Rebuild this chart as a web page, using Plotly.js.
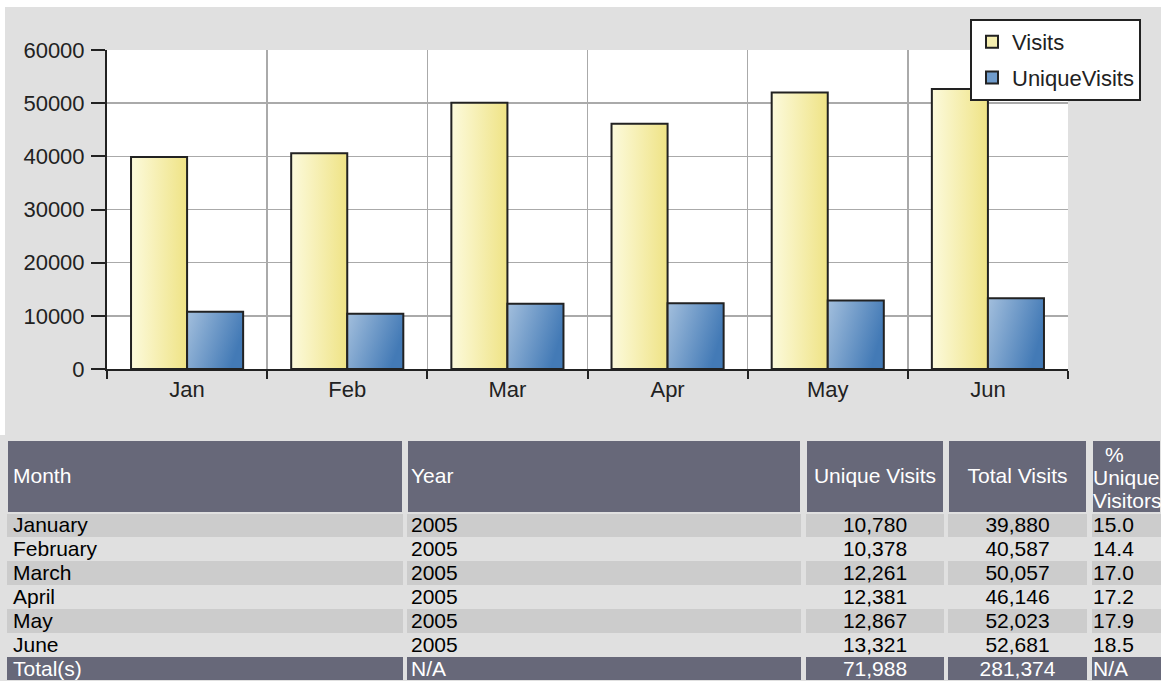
<!DOCTYPE html>
<html>
<head>
<meta charset="utf-8">
<script src="https://cdn.plot.ly/plotly-3.0.1.min.js"></script>
<style>
  html, body { margin: 0; padding: 0; background: #ffffff; }
  #chart { width: 1161px; height: 681px; }
</style>
</head>
<body>
<div id="chart"></div>
<script>
var months = ['Jan', 'Feb', 'Mar', 'Apr', 'May', 'Jun']
var month_names = ['January', 'February', 'March', 'April', 'May', 'June']
var years = ['2005', '2005', '2005', '2005', '2005', '2005']
var visits = [39880, 40587, 50057, 46146, 52023, 52681]
var unique_visits = [10780, 10378, 12261, 12381, 12867, 13321]
var pct_unique = ['15.0', '14.4', '17.0', '17.2', '17.9', '18.5']
var total_unique = 71988
var total_visits = 281374

var W = 1161, H = 681
function px(x) { return x / W }
function py(y) { return 1 - y / H }
function fmt(n) { return String(n).replace(/\B(?=(\d{3})+(?!\d))/g, ',') }

var ink = '#222222'
var bg = '#e0e0e0'
var head = '#676879'
var font = 'Liberation Sans, Arial, sans-serif'

var visits_trace = {
    type: 'bar', name: 'Visits', x: months, y: visits,
    marker: { color: '#f6efb0', line: { color: ink, width: 2 } },
    hoverinfo: 'none', legendgroup: 'a'
}
var unique_trace = {
    type: 'bar', name: 'UniqueVisits', x: months, y: unique_visits,
    marker: { color: '#6f9bcb', line: { color: ink, width: 2 } },
    hoverinfo: 'none', legendgroup: 'b'
}

// one table trace per column so the columns get gaps between them
function column(header, values, x0, x1, align) {
    var n = values.length
    var fills = [], colors = []
    for (var i = 0; i < n; i++) {
        if (i == n - 1) { fills.push(head); colors.push('#ffffff') }
        else { fills.push(i % 2 == 0 ? '#cccccc' : bg); colors.push('#000000') }
    }
    return {
        type: 'table',
        domain: { x: [px(x0), px(x1)], y: [0, py(440)] },
        header: {
            values: [header], align: align, height: 73,
            fill: { color: head }, line: { color: bg, width: 2 },
            font: { family: font, size: 21, color: '#ffffff' }
        },
        cells: {
            values: [values], align: align, height: 24,
            fill: { color: [fills] }, line: { color: [fills], width: 0 },
            font: { family: font, size: 21, color: [colors] }
        }
    }
}

var col_month = column('Month', month_names.concat(['Total(s)']), 7, 403, 'left')
var col_year = column('Year', years.concat(['N/A']), 407, 802, 'left')
var col_unique = column('Unique\u00a0Visits', unique_visits.map(fmt).concat([fmt(total_unique)]), 806, 944, 'center')
var col_total = column('Total\u00a0Visits', visits.map(fmt).concat([fmt(total_visits)]), 948, 1087, 'center')
var col_pct = column('', pct_unique.concat(['N/A']), 1092, 1161, 'left')

var data = [visits_trace, unique_trace, col_month, col_year, col_unique, col_total, col_pct]

var head_font = { family: font, size: 21, color: '#ffffff' }

var layout = {
    width: W, height: H,
    margin: { l: 0, r: 0, t: 0, b: 0 },
    paper_bgcolor: bg,
    plot_bgcolor: '#ffffff',
    font: { family: font, size: 22, color: ink },
    showlegend: true,
    bargap: 0.3, bargroupgap: 0,
    xaxis: {
        domain: [px(107), px(1068)],
        type: 'category', tickson: 'boundaries',
        ticks: 'outside', ticklen: 8, tickwidth: 2, tickcolor: ink,
        showline: true, linecolor: ink, linewidth: 2,
        showgrid: true, gridcolor: '#aaaaaa', gridwidth: 1.5,
        tickfont: { size: 22, color: ink }, fixedrange: true
    },
    xaxis2: {
        overlaying: 'x', anchor: 'y', domain: [px(107), px(1068)],
        type: 'category', tickson: 'boundaries', matches: 'x',
        ticks: 'inside', ticklen: 6, tickwidth: 2, tickcolor: ink,
        showticklabels: false, showgrid: false, showline: false
    },
    yaxis: {
        domain: [py(369), py(50)],
        range: [0, 60000], tick0: 0, dtick: 10000,
        ticks: 'outside', ticklen: 14, tickwidth: 2, tickcolor: ink,
        ticklabelstandoff: 2,
        showline: true, linecolor: ink, linewidth: 2,
        showgrid: true, gridcolor: '#aaaaaa', gridwidth: 1.5,
        zeroline: false, tickformat: 'd',
        tickfont: { size: 22, color: ink }, fixedrange: true
    },
    yaxis2: {
        overlaying: 'y', anchor: 'x', domain: [py(369), py(50)],
        range: [0, 60000], tick0: 0, dtick: 10000,
        ticks: 'inside', ticklen: 15, tickwidth: 2, tickcolor: ink,
        showticklabels: false, showgrid: false, showline: false, zeroline: false
    },
    legend: {
        x: px(970), y: py(19), xanchor: 'left', yanchor: 'top',
        bgcolor: '#ffffff', bordercolor: ink, borderwidth: 2,
        font: { size: 22, color: ink },
        traceorder: 'grouped', tracegroupgap: 4, itemwidth: 30
    },
    shapes: [
        { type: 'rect', xref: 'paper', yref: 'paper', x0: 0, x1: 1, y0: py(7), y1: 1,
          fillcolor: '#ffffff', line: { width: 0 } },
        { type: 'rect', xref: 'paper', yref: 'paper', x0: 0, x1: px(5), y0: py(435), y1: 1,
          fillcolor: '#ffffff', line: { width: 0 } }
    ],
    annotations: [
        { text: '%', x: px(1114), y: py(454), xref: 'paper', yref: 'paper', showarrow: false,
          xanchor: 'center', yanchor: 'middle', font: head_font },
        { text: 'Unique', x: px(1091), y: py(477), xref: 'paper', yref: 'paper', showarrow: false,
          xanchor: 'left', yanchor: 'middle', font: head_font },
        { text: 'Visitors', x: px(1091), y: py(500), xref: 'paper', yref: 'paper', showarrow: false,
          xanchor: 'left', yanchor: 'middle', font: head_font }
    ]
}

var config = { displayModeBar: false, staticPlot: true }

// the bars in the picture carry a soft gradient, added into the svg after drawing
function add_gradients(gd) {
    var svg = gd.querySelector('svg.main-svg')
    var ns = 'http://www.w3.org/2000/svg'
    var defs = svg.querySelector('defs')
    function grad(id, stops, x2, y2) {
        var g = document.createElementNS(ns, 'linearGradient')
        g.setAttribute('id', id)
        g.setAttribute('x1', '0'); g.setAttribute('y1', '0')
        g.setAttribute('x2', x2); g.setAttribute('y2', y2)
        stops.forEach(function (s) {
            var st = document.createElementNS(ns, 'stop')
            st.setAttribute('offset', s[0]); st.setAttribute('stop-color', s[1])
            g.appendChild(st)
        })
        defs.appendChild(g)
    }
    grad('g_visits', [[0, '#fcfadc'], [1, '#efe385']], '1', '0')
    grad('g_unique', [[0, '#a3bfdd'], [1, '#437ab6']], '1', '0.35')
    var traces = gd.querySelectorAll('.barlayer .trace')
    var ids = ['g_visits', 'g_unique']
    traces.forEach(function (t, i) {
        t.querySelectorAll('path').forEach(function (p) {
            p.style.fill = 'url(#' + ids[i] + ')'
        })
    })
    return gd
}

// table text sits at the top of each cell; move it to where the picture has it
function nudge_table_text(gd) {
    gd.querySelectorAll('.cell-text').forEach(function (t) {
        var r = t.getBoundingClientRect()
        if (!r.width) return
        var dy = r.top < 505 ? 19 : -5
        var dx = 0
        if (r.left < 400) dx = -2
        else if (r.left < 800) dx = -4
        else if (r.left > 1090) dx = -7
        t.setAttribute('transform', (t.getAttribute('transform') || '') + ' translate(' + dx + ',' + dy + ')')
    })
    return gd
}

Plotly.newPlot('chart', data, layout, config).then(add_gradients).then(nudge_table_text)
</script>
</body>
</html>
